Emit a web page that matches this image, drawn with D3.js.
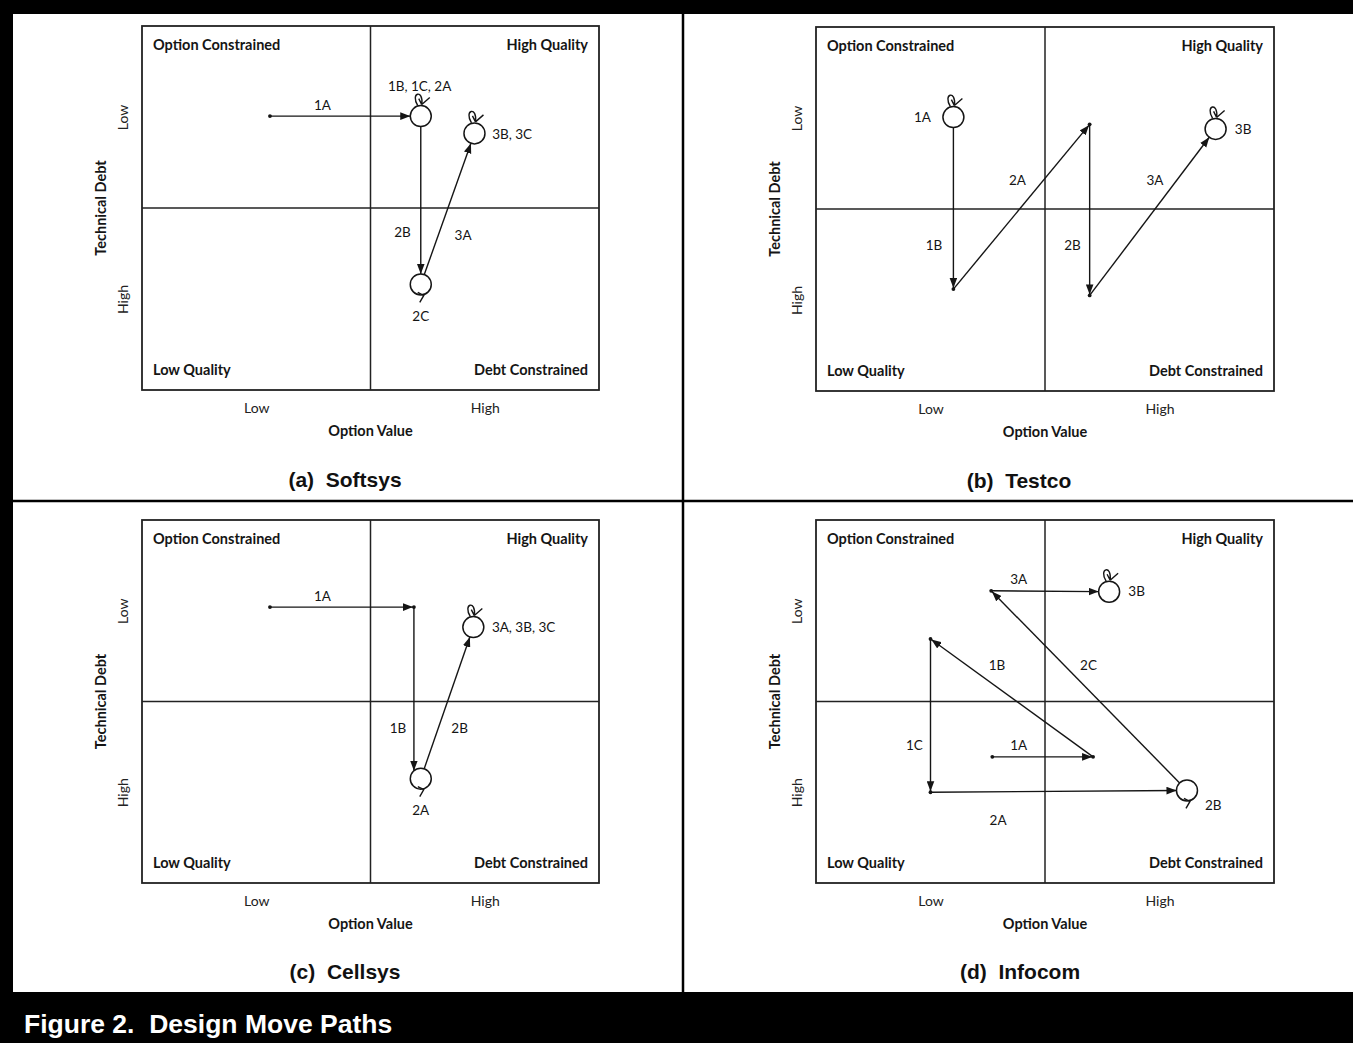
<!DOCTYPE html>
<html>
<head>
<meta charset="utf-8">
<script src="https://cdn.jsdelivr.net/npm/d3@7"></script>
<style>
  html, body { margin: 0; padding: 0; background: #fff; }
  svg { display: block; }
</style>
</head>
<body>
<script>
const W = 1353, H = 1043;

const quadrantNames = ["Option Constrained", "High Quality", "Low Quality", "Debt Constrained"];
const levelTicks = ["Low", "High"];
const xTitle = "Option Value";
const yTitle = "Technical Debt";
const panelTitles = ["(a)  Softsys", "(b)  Testco", "(c)  Cellsys", "(d)  Infocom"];
const caption = "Figure 2.  Design Move Paths";

// x = option value, y = technical debt (1 = low, 3 = high) on a 0..4 grid
// kind "stay" = state held over several moves (drawn as a circle)
const softsysStates = [
  { id: "a0", x: 1.12, y: 0.99, kind: "dot" },
  { id: "a1", x: 2.44, y: 0.99, kind: "stay", label: "1B, 1C, 2A", lx: 2.43, ly: 0.66 },
  { id: "a2", x: 2.44, y: 2.84, kind: "stay", label: "2C", lx: 2.44, ly: 3.19 },
  { id: "a3", x: 2.91, y: 1.18, kind: "stay", label: "3B, 3C", lx: 3.24, ly: 1.19 }
];
const softsysMoves = [
  { from: "a0", to: "a1", label: "1A", lx: 1.58, ly: 0.87 },
  { from: "a1", to: "a2", label: "2B", lx: 2.28, ly: 2.27 },
  { from: "a2", to: "a3", label: "3A", lx: 2.81, ly: 2.30 }
];

const testcoStates = [
  { id: "b0", x: 1.20, y: 0.99, kind: "stay", label: "1A", lx: 0.93, ly: 0.99 },
  { id: "b1", x: 1.20, y: 2.88, kind: "dot" },
  { id: "b2", x: 2.39, y: 1.07, kind: "dot" },
  { id: "b3", x: 2.39, y: 2.95, kind: "dot" },
  { id: "b4", x: 3.49, y: 1.12, kind: "stay", label: "3B", lx: 3.73, ly: 1.12 }
];
const testcoMoves = [
  { from: "b0", to: "b1", label: "1B", lx: 1.03, ly: 2.40 },
  { from: "b1", to: "b2", label: "2A", lx: 1.76, ly: 1.68 },
  { from: "b2", to: "b3", label: "2B", lx: 2.24, ly: 2.40 },
  { from: "b3", to: "b4", label: "3A", lx: 2.96, ly: 1.68 }
];

const cellsysStates = [
  { id: "c0", x: 1.12, y: 0.96, kind: "dot" },
  { id: "c1", x: 2.38, y: 0.96, kind: "dot" },
  { id: "c2", x: 2.44, y: 2.85, kind: "stay", label: "2A", lx: 2.44, ly: 3.20 },
  { id: "c3", x: 2.90, y: 1.18, kind: "stay", label: "3A, 3B, 3C", lx: 3.34, ly: 1.18 }
];
const cellsysMoves = [
  { from: "c0", to: "c1", label: "1A", lx: 1.58, ly: 0.84 },
  { from: "c1", to: "c2", label: "1B", lx: 2.24, ly: 2.30 },
  { from: "c2", to: "c3", label: "2B", lx: 2.78, ly: 2.30 }
];

const infocomStates = [
  { id: "d0", x: 1.54, y: 2.61, kind: "dot" },
  { id: "d1", x: 2.42, y: 2.61, kind: "dot" },
  { id: "d2", x: 1.00, y: 1.31, kind: "dot" },
  { id: "d3", x: 1.00, y: 3.00, kind: "dot" },
  { id: "d4", x: 3.24, y: 2.98, kind: "stay", label: "2B", lx: 3.47, ly: 3.14 },
  { id: "d5", x: 1.53, y: 0.78, kind: "dot" },
  { id: "d6", x: 2.56, y: 0.79, kind: "stay", label: "3B", lx: 2.80, ly: 0.78 }
];
const infocomMoves = [
  { from: "d0", to: "d1", label: "1A", lx: 1.77, ly: 2.48 },
  { from: "d1", to: "d2", label: "1B", lx: 1.58, ly: 1.60 },
  { from: "d2", to: "d3", label: "1C", lx: 0.86, ly: 2.48 },
  { from: "d3", to: "d4", label: "2A", lx: 1.59, ly: 3.31 },
  { from: "d4", to: "d5", label: "2C", lx: 2.38, ly: 1.60 },
  { from: "d5", to: "d6", label: "3A", lx: 1.77, ly: 0.65 }
];

const panelStates = [softsysStates, testcoStates, cellsysStates, infocomStates];
const panelMoves = [softsysMoves, testcoMoves, cellsysMoves, infocomMoves];

// plot boxes on the page
const frames = [
  { x0: 142, x1: 599, y0: 26, y1: 390, tx: 345, ty: 487 },
  { x0: 816, x1: 1274, y0: 27, y1: 391, tx: 1019, ty: 488 },
  { x0: 142, x1: 599, y0: 520, y1: 883, tx: 345, ty: 979 },
  { x0: 816, x1: 1274, y0: 520, y1: 883, tx: 1020, ty: 979 }
];

const ink = "#151515";
const R = 10.5;
const labelFont = "Lato, 'Open Sans', sans-serif";
const titleFont = "'Liberation Sans', Arial, sans-serif";

const svg = d3.select("body").append("svg")
  .attr("width", W).attr("height", H);

svg.append("defs").append("marker")
  .attr("id", "arrow")
  .attr("viewBox", "0 -4 10 8")
  .attr("refX", 10).attr("refY", 0)
  .attr("markerUnits", "userSpaceOnUse")
  .attr("markerWidth", 10).attr("markerHeight", 8)
  .attr("orient", "auto")
  .append("path").attr("d", "M0,-3.8L10,0L0,3.8Z").attr("fill", ink);

svg.append("rect").attr("width", W).attr("height", H).attr("fill", "#fff");

// black frame and caption band
svg.append("rect").attr("x", 0).attr("y", 0).attr("width", W).attr("height", 14).attr("fill", "#000");
svg.append("rect").attr("x", 0).attr("y", 0).attr("width", 13).attr("height", H).attr("fill", "#000");
svg.append("rect").attr("x", 0).attr("y", 992).attr("width", W).attr("height", H - 992).attr("fill", "#000");
svg.append("line").attr("x1", 683).attr("x2", 683).attr("y1", 14).attr("y2", 992)
  .attr("stroke", "#000").attr("stroke-width", 2.5);
svg.append("line").attr("x1", 13).attr("x2", W).attr("y1", 501).attr("y2", 501)
  .attr("stroke", "#000").attr("stroke-width", 2.5);

svg.append("text")
  .attr("x", 24).attr("y", 1033)
  .attr("fill", "#fff")
  .attr("font-family", titleFont).attr("font-weight", "bold").attr("font-size", 26.5)
  .style("white-space", "pre")
  .text(caption);

frames.forEach((f, i) => {
  const g = svg.append("g");
  const x = d3.scaleLinear().domain([0, 4]).range([f.x0, f.x1]);
  const y = d3.scaleLinear().domain([0, 4]).range([f.y0, f.y1]);

  g.append("rect")
    .attr("x", f.x0).attr("y", f.y0)
    .attr("width", f.x1 - f.x0).attr("height", f.y1 - f.y0)
    .attr("fill", "none").attr("stroke", "#222").attr("stroke-width", 1.8);
  g.append("line").attr("x1", x(2)).attr("x2", x(2)).attr("y1", f.y0).attr("y2", f.y1)
    .attr("stroke", "#222").attr("stroke-width", 1.5);
  g.append("line").attr("x1", f.x0).attr("x2", f.x1).attr("y1", y(2)).attr("y2", y(2))
    .attr("stroke", "#222").attr("stroke-width", 1.5);

  // quadrant names in the corners
  quadrantNames.forEach((name, q) => {
    const right = q % 2 === 1, bottom = q >= 2;
    g.append("text")
      .attr("x", right ? f.x1 - 11 : f.x0 + 11)
      .attr("y", bottom ? f.y1 - 20 : f.y0 + 19)
      .attr("dy", "0.35em")
      .attr("text-anchor", right ? "end" : "start")
      .attr("font-family", labelFont).attr("font-weight", "bold").attr("font-size", 14.5)
      .attr("fill", ink)
      .text(name);
  });

  // axes
  const xa = g.append("g")
    .attr("transform", `translate(0,${f.y1})`)
    .call(d3.axisBottom(x).tickValues([1, 3]).tickFormat((d, k) => levelTicks[k]).tickSize(0).tickPadding(13));
  xa.select(".domain").remove();
  xa.selectAll("text").attr("font-family", labelFont).attr("font-size", 14).attr("fill", "#222");

  const ya = g.append("g")
    .attr("transform", `translate(${f.x0},0)`)
    .call(d3.axisLeft(y).tickValues([1, 3]).tickFormat((d, k) => levelTicks[k]).tickSize(0));
  ya.select(".domain").remove();
  ya.selectAll("text")
    .attr("x", 0).attr("dy", "0.35em")
    .attr("transform", "translate(-19,0) rotate(-90)")
    .attr("text-anchor", "middle")
    .attr("font-family", labelFont).attr("font-size", 14).attr("fill", "#222");

  g.append("text")
    .attr("x", x(2)).attr("y", f.y1 + 41).attr("dy", "0.35em")
    .attr("text-anchor", "middle")
    .attr("font-family", labelFont).attr("font-weight", "bold").attr("font-size", 14.5)
    .attr("fill", ink).text(xTitle);
  g.append("text")
    .attr("transform", `translate(${f.x0 - 41},${y(2)}) rotate(-90)`)
    .attr("dy", "0.35em")
    .attr("text-anchor", "middle")
    .attr("font-family", labelFont).attr("font-weight", "bold").attr("font-size", 14.5)
    .attr("fill", ink).text(yTitle);

  g.append("text")
    .attr("x", f.tx).attr("y", f.ty)
    .attr("text-anchor", "middle")
    .attr("font-family", titleFont).attr("font-weight", "bold").attr("font-size", 21)
    .attr("fill", "#111")
    .style("white-space", "pre")
    .text(panelTitles[i]);

  // move paths
  const states = panelStates[i];
  const byId = new Map(states.map(s => [s.id, s]));
  panelMoves[i].forEach(m => {
    const s = byId.get(m.from), t = byId.get(m.to);
    const sx = x(s.x), sy = y(s.y);
    let tx = x(t.x), ty = y(t.y);
    let x1, y1, x2, y2;
    if (t.kind === "stay" && s.kind === "dot" && Math.abs(tx - sx) < R && Math.abs(ty - sy) > R) {
      // nearly vertical move: keep it straight and stop on the circle rim
      const off = Math.sqrt(R * R - (tx - sx) * (tx - sx));
      x1 = sx; y1 = sy;
      x2 = sx; y2 = ty - Math.sign(ty - sy) * off;
    } else {
      const len = Math.hypot(tx - sx, ty - sy);
      const ux = (tx - sx) / len, uy = (ty - sy) / len;
      const rs = s.kind === "stay" ? R : 0;
      const rt = t.kind === "stay" ? R : 1;
      x1 = sx + ux * rs; y1 = sy + uy * rs;
      x2 = tx - ux * rt; y2 = ty - uy * rt;
    }
    g.append("line")
      .attr("x1", x1).attr("y1", y1)
      .attr("x2", x2).attr("y2", y2)
      .attr("stroke", ink).attr("stroke-width", 1.4)
      .attr("marker-end", "url(#arrow)");
    g.append("text")
      .attr("x", x(m.lx)).attr("y", y(m.ly)).attr("dy", "0.35em")
      .attr("text-anchor", "middle")
      .attr("font-family", labelFont).attr("font-size", 13.5).attr("fill", ink)
      .text(m.label);
  });

  // states
  states.forEach(s => {
    const cx = x(s.x), cy = y(s.y);
    if (s.kind === "dot") {
      g.append("circle").attr("cx", cx).attr("cy", cy).attr("r", 1.9).attr("fill", ink);
      return;
    }
    g.append("circle").attr("cx", cx).attr("cy", cy).attr("r", R)
      .attr("fill", "#fff").attr("stroke", ink).attr("stroke-width", 1.5);
    // little self-loop: on top for low-debt states, under the circle otherwise
    const p = d3.path();
    if (s.y < 2) {
      const t0 = cy - R;
      p.moveTo(cx - 3, t0);
      p.bezierCurveTo(cx - 11, t0 - 13, cx + 3, t0 - 17, cx + 1, t0 - 1);
      p.moveTo(cx + 1, t0 - 1);
      p.lineTo(cx + 9, t0 - 8);
      p.moveTo(cx + 1, t0 - 1);
      p.lineTo(cx - 2, t0 - 7);
    } else {
      p.moveTo(cx - 3, cy + 8);
      p.lineTo(cx + 3, cy + 11);
      p.lineTo(cx - 1, cy + 18);
    }
    g.append("path").attr("d", p.toString())
      .attr("fill", "none").attr("stroke", ink).attr("stroke-width", 1.4);
    g.append("text")
      .attr("x", x(s.lx)).attr("y", y(s.ly)).attr("dy", "0.35em")
      .attr("text-anchor", "middle")
      .attr("font-family", labelFont).attr("font-size", 13.5).attr("fill", ink)
      .text(s.label);
  });
});
</script>
</body>
</html>
